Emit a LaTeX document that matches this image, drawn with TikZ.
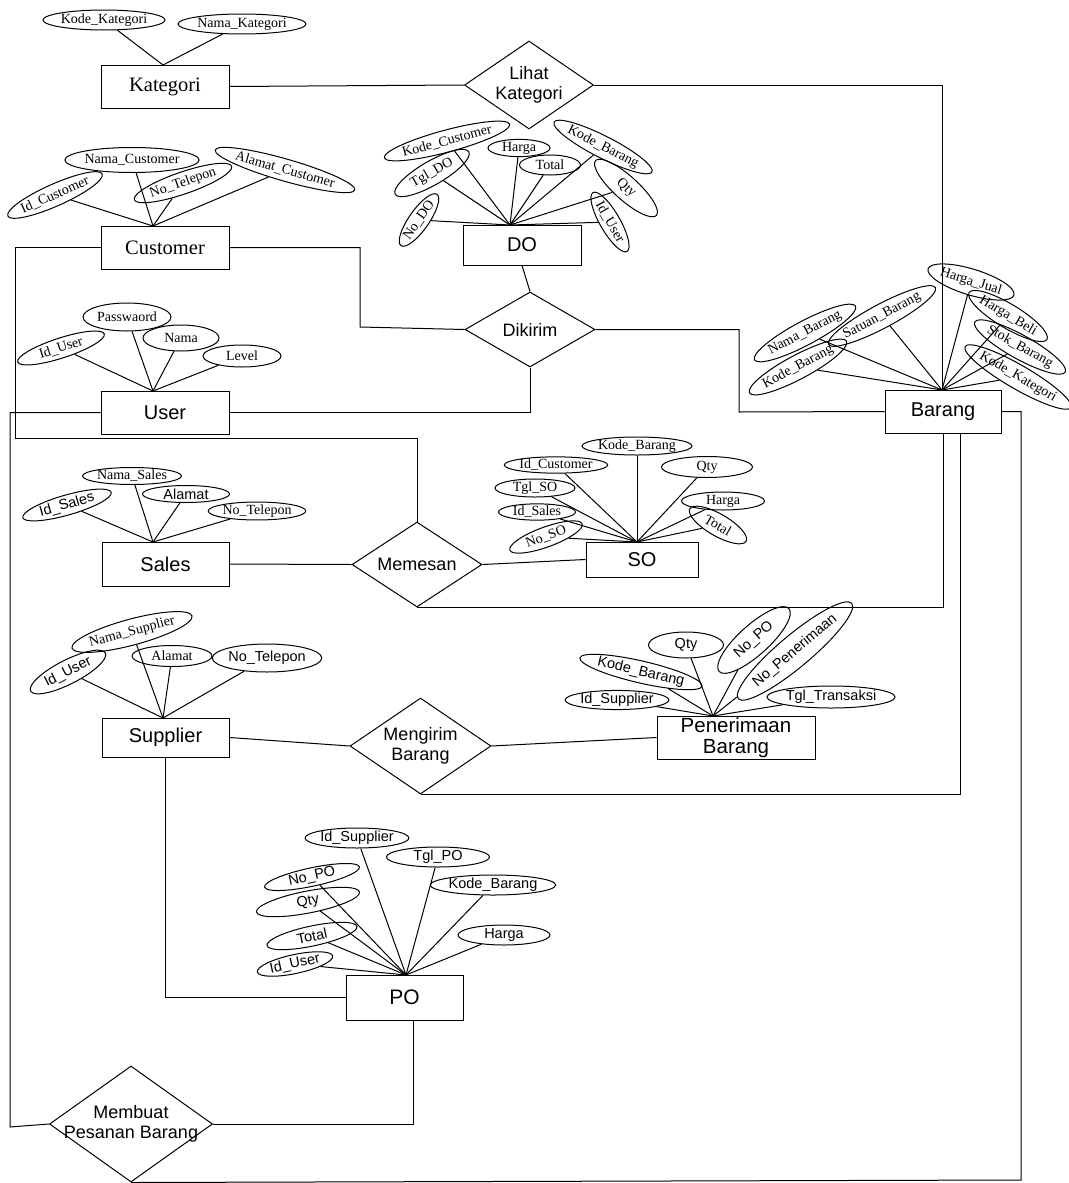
\documentclass[tikz,border=0pt]{standalone}
\usepackage{fontspec}
\setmainfont{Liberation Serif}
\setsansfont{Liberation Sans}
\usetikzlibrary{shapes.geometric}
\begin{document}
\begin{tikzpicture}[x=1pt,y=-1pt,
  ent/.style={draw, rectangle, inner sep=0, line width=1},
  entsf/.style={ent, font=\sffamily\fontsize{20}{22}\selectfont},
  entrm/.style={ent, font=\rmfamily\fontsize{20.5}{22}\selectfont},
  rel/.style={draw, diamond, inner sep=0, line width=1},
  reltext/.style={font=\sffamily\fontsize{18}{20}\selectfont, align=center},
  attr/.style={draw, ellipse, inner sep=0, line width=1, font=\rmfamily\fontsize{14}{16}\selectfont},
  attrsf/.style={attr, font=\sffamily\fontsize{14.5}{16}\selectfont},
  link/.style={draw, line width=1}
]
\fill[white] (0,0) rectangle (1068,1183);
\useasboundingbox (0,0) rectangle (1068,1183);

% ---------- entities ----------
\node[entrm, minimum width=128, minimum height=43] (kat) at (165,86.5) {Kategori};
\node[entrm, minimum width=128, minimum height=43] (cus) at (165,247.5) {Customer};
\node[entsf, minimum width=128, minimum height=43] (usr) at (165,412.5) {User};
\node[entsf, minimum width=127, minimum height=44] (sal) at (165.5,564) {Sales};
\node[entsf, minimum width=127, minimum height=39] (sup) at (165.5,737.5) {Supplier};
\node[entsf, minimum width=118, minimum height=40] (dox) at (522,245) {DO};
\node[entsf, minimum width=116, minimum height=43] (bar) at (943,411.5) {Barang};
\node[entsf, minimum width=112, minimum height=35] (sox) at (642,559.5) {SO};
\node[entsf, minimum width=158, minimum height=43, align=center, font=\sffamily\fontsize{20.5}{20.5}\selectfont] (pen) at (736,737.5) {Penerimaan\\Barang};
\node[entsf, minimum width=117, minimum height=45, font=\sffamily\fontsize{21}{22}\selectfont] (pox) at (404.5,997.5) {PO};

% ---------- relationships ----------
\node[rel, minimum width=129, minimum height=88, label={[reltext]center:{Lihat\\Kategori}}] (lih) at (529,85) {};
\node[rel, minimum width=130, minimum height=75, label={[reltext]center:Dikirim}] (dik) at (530,329.5) {};
\node[rel, minimum width=130, minimum height=85, label={[reltext]center:Memesan}] (mem) at (417,564.5) {};
\node[rel, minimum width=141, minimum height=96, label={[reltext]center:{Mengirim\\Barang}}] (men) at (420.5,746) {};
\node[rel, minimum width=163, minimum height=116, label={[reltext]center:{Membuat\\Pesanan Barang}}] (mpb) at (131,1124) {};

% ---------- attribute convergence points ----------
\coordinate (katT) at (163,65);
\coordinate (cusT) at (153,226);
\coordinate (usrT) at (153,391);
\coordinate (salT) at (153,542);
\coordinate (supT) at (163,718);
\coordinate (penT) at (713,716);
\coordinate (poT) at (406,975);
\coordinate (soT) at (637,542);
\coordinate (doT) at (510,225);
\coordinate (barT) at (942,390);

% Kategori
\node[attr, minimum width=118, minimum height=20] (k1) at (104,20) {Kode\_Kategori};
\node[attr, minimum width=128, minimum height=20] (k2) at (242,24) {Nama\_Kategori};
\foreach \n in {k1,k2} \draw[link] (\n) -- (katT);

% Customer
\node[attr, minimum width=98, minimum height=22, rotate=24] (c1) at (55,195) {Id\_Customer};
\node[attr, minimum width=118, minimum height=25] (c2) at (132,160) {Nama\_Customer};
\node[attr, minimum width=103, minimum height=22, rotate=19] (c3) at (183,183) {No\_Telepon};
\node[attr, minimum width=127, minimum height=22, rotate=-16] (c4) at (285,170) {Alamat\_Customer};
\foreach \n in {c1,c2,c3,c4} \draw[link] (\n) -- (cusT);

% User
\node[attr, minimum width=91, minimum height=20, rotate=18] (u1) at (61,348) {Id\_User};
\node[attr, minimum width=88, minimum height=28] (u2) at (127,317) {Passwaord};
\node[attr, minimum width=76, minimum height=26] (u3) at (181,338) {Nama};
\node[attr, minimum width=78, minimum height=22] (u4) at (242,356) {Level};
\foreach \n in {u1,u2,u3,u4} \draw[link] (\n) -- (usrT);

% Sales
\node[attrsf, minimum width=92, minimum height=20, rotate=16] (s1) at (67,505) {Id\_Sales};
\node[attr, minimum width=93, minimum height=17] (s2) at (132,476) {Nama\_Sales};
\node[attrsf, minimum width=87, minimum height=17] (s3) at (186,494) {Alamat};
\node[attr, minimum width=89, minimum height=17] (s4) at (257,511) {No\_Telepon};
\foreach \n in {s1,s2,s3,s4} \draw[link] (\n) -- (salT);

% Supplier
\node[attrsf, minimum width=84, minimum height=24, rotate=27] (p1) at (68,672) {Id\_User};
\node[attr, minimum width=110, minimum height=26, rotate=15] (p2) at (132,632) {Nama\_Supplier};
\node[attr, minimum width=80, minimum height=21] (p3) at (172,656) {Alamat};
\node[attrsf, minimum width=108, minimum height=28] (p4) at (267,658) {No\_Telepon};
\foreach \n in {p1,p2,p3,p4} \draw[link] (\n) -- (supT);

% Penerimaan Barang
\node[attrsf, minimum width=92, minimum height=16] (r1) at (617,700) {Id\_Supplier};
\node[attrsf, minimum width=116, minimum height=22, rotate=-13] (r2) at (641,672) {Kode\_Barang};
\node[attrsf, minimum width=75, minimum height=26] (r3) at (686,645) {Qty};
\node[attrsf, minimum width=94, minimum height=30, rotate=42] (r4) at (754,640) {No\_PO};
\node[attrsf, minimum width=114, minimum height=32, rotate=40] (r5) at (795,651) {No\_Penerimaan};
\node[attrsf, minimum width=108, minimum height=22] (r6) at (831,697) {Tgl\_Transaksi};
\foreach \n in {r1,r2,r3,r4,r5,r6} \draw[link] (\n) -- (penT);

% PO
\node[attrsf, minimum width=90, minimum height=20] (o1) at (357,838) {Id\_Supplier};
\node[attrsf, minimum width=103, minimum height=20] (o2) at (438,857) {Tgl\_PO};
\node[attrsf, minimum width=97, minimum height=18, rotate=12] (o3) at (312,877) {No\_PO};
\node[attrsf, minimum width=110, minimum height=20] (o4) at (493,885) {Kode\_Barang};
\node[attrsf, minimum width=105, minimum height=22, rotate=11] (o5) at (308,902) {Qty};
\node[attrsf, minimum width=92, minimum height=20] (o6) at (504,935) {Harga};
\node[attrsf, minimum width=92, minimum height=20, rotate=12] (o7) at (312,936) {Total};
\node[attrsf, minimum width=77, minimum height=16, rotate=12] (o8) at (295,964) {Id\_User};
\foreach \n in {o1,o2,o3,o4,o5,o6,o7,o8} \draw[link] (\n) -- (poT);

% SO
\node[attr, minimum width=102, minimum height=15] (q1) at (637,446) {Kode\_Barang};
\node[attr, minimum width=102, minimum height=14] (q2) at (556,465) {Id\_Customer};
\node[attr, minimum width=91, minimum height=21] (q3) at (707,467) {Qty};
\node[attr, minimum width=80, minimum height=17] (q4) at (535,488) {Tgl\_SO};
\node[attr, minimum width=83, minimum height=18] (q5) at (723,501) {Harga};
\node[attr, minimum width=77, minimum height=15] (q6) at (537,512) {Id\_Sales};
\node[attr, minimum width=65, minimum height=22, rotate=-30] (q7) at (718,525) {Total};
\node[attr, minimum width=77, minimum height=20, rotate=20] (q8) at (546,537) {No\_SO};
\foreach \n in {q1,q2,q3,q4,q5,q6,q7,q8} \draw[link] (\n) -- (soT);

% DO
\node[attr, minimum width=123, minimum height=22, rotate=15] (d1) at (447,141) {Kode\_Customer};
\node[attr, minimum width=62, minimum height=17] (d2) at (519,148) {Harga};
\node[attr, minimum width=61, minimum height=20] (d3) at (550,165) {Total};
\node[attr, minimum width=98, minimum height=22, rotate=-27] (d4) at (603,147) {Kode\_Barang};
\node[attr, minimum width=85, minimum height=24, rotate=30] (d5) at (432,173) {Tgl\_DO};
\node[attr, minimum width=82, minimum height=24, rotate=-42] (d6) at (626,188) {Qty};
\node[attr, minimum width=56, minimum height=20, rotate=55] (d7) at (419,220) {No\_DO};
\node[attr, minimum width=68, minimum height=20, rotate=-60] (d8) at (610,222) {Id\_User};
\foreach \n in {d1,d2,d3,d4,d5,d6,d7,d8} \draw[link] (\n) -- (doT);

% Barang
\node[attr, minimum width=80, minimum height=26, rotate=-17] (b1) at (971,282) {Harga\_Jual};
\node[attr, minimum width=80, minimum height=24, rotate=-31] (b2) at (1008,316) {Harga\_Beli};
\node[attr, minimum width=93, minimum height=24, rotate=-29] (b3) at (1020,347) {Stok\_Barang};
\node[attr, minimum width=100, minimum height=24, rotate=-30] (b4) at (1018,377) {Kode\_Kategori};
\node[attr, minimum width=114, minimum height=24, rotate=28] (b5) at (805,333) {Nama\_Barang};
\node[attr, minimum width=104, minimum height=24, rotate=28] (b6) at (882,316) {Satuan\_Barang};
\node[attr, minimum width=110, minimum height=24, rotate=28] (b7) at (798,367) {Kode\_Barang};
\foreach \n in {b1,b2,b3,b4,b5,b6,b7} \draw[link] (\n) -- (barT);

% ---------- relationship connectors ----------
\draw[link] (kat.east) -- (lih.west);
\draw[link] (lih.east) -| (barT);
\draw[link] (cus.west) -| (15,438) -| (mem.north);
\draw[link] (cus.east) -| (360,327) -- (dik.west);
\draw[link] (dox.south) -- (dik.north);
\draw[link] (dik.south) |- (usr.east);
\draw[link] (dik.east) -| (739,412) -- (bar.west);
\draw[link] (bar.east) -| (1021,1180) -- (mpb.south);
\draw[link] (usr.west) -| (10,1127) -- (mpb.west);
\draw[link] ([xshift=8.5]pox.south) |- (mpb.east);
\draw[link] (sup.south) |- (pox.west);
\draw[link] (sup.east) -- (men.west);
\draw[link] (men.east) -- (pen.west);
\draw[link] (men.south) -| ([xshift=17]bar.south);
\draw[link] (sal.east) -- (mem.west);
\draw[link] (mem.east) -- (sox.west);
\draw[link] (mem.south) -| (bar.south);
\end{tikzpicture}
\end{document}
